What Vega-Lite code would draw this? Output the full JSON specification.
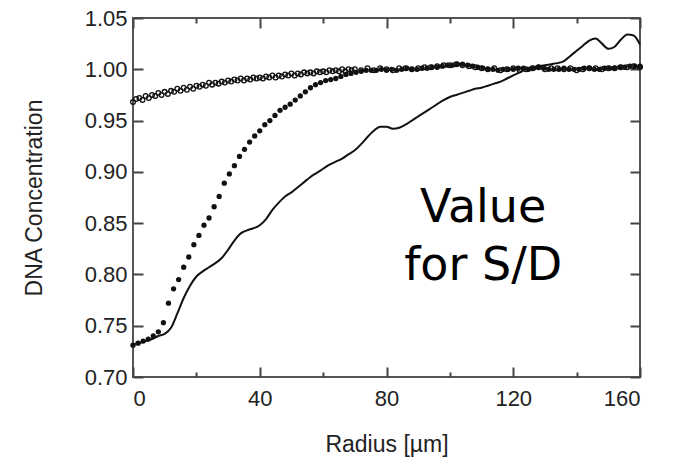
{
  "$schema": "https://vega.github.io/schema/vega-lite/v6.json",
  "autosize": {"type": "none"},
  "width": 507,
  "height": 359,
  "padding": {"left": 133, "top": 18, "right": 35, "bottom": 80},
  "config": {
    "view": {"stroke": "#555", "strokeWidth": 2},
    "font": "Liberation Sans",
    "axis": {
      "domain": false,
      "grid": false,
      "tickColor": "#444",
      "tickWidth": 2,
      "labelFont": "Liberation Sans",
      "labelFontSize": 22,
      "labelColor": "#222",
      "titleFont": "Liberation Sans",
      "titleFontWeight": "normal",
      "titleColor": "#222",
      "titleFontSize": 23
    }
  },
  "datasets": {
    "open": [
      {"r":0,"c":0.968},{"r":1,"c":0.971},{"r":2,"c":0.972},{"r":3,"c":0.970},{"r":4,"c":0.974},{"r":5,"c":0.972},{"r":6,"c":0.975},{"r":7,"c":0.974},{"r":8,"c":0.977},{"r":9,"c":0.975},
      {"r":10,"c":0.978},{"r":11,"c":0.976},{"r":12,"c":0.979},{"r":13,"c":0.978},{"r":14,"c":0.981},{"r":15,"c":0.979},{"r":16,"c":0.982},{"r":17,"c":0.980},{"r":18,"c":0.983},{"r":19,"c":0.981},
      {"r":20,"c":0.984},{"r":21,"c":0.983},{"r":22,"c":0.985},{"r":23,"c":0.984},{"r":24,"c":0.987},{"r":25,"c":0.985},{"r":26,"c":0.987},{"r":27,"c":0.986},{"r":28,"c":0.988},{"r":29,"c":0.987},
      {"r":30,"c":0.989},{"r":31,"c":0.988},{"r":32,"c":0.990},{"r":33,"c":0.989},{"r":34,"c":0.991},{"r":35,"c":0.989},{"r":36,"c":0.991},{"r":37,"c":0.990},{"r":38,"c":0.992},{"r":39,"c":0.991},
      {"r":40,"c":0.992},{"r":41,"c":0.991},{"r":42,"c":0.993},{"r":43,"c":0.992},{"r":44,"c":0.994},{"r":45,"c":0.992},{"r":46,"c":0.994},{"r":47,"c":0.993},{"r":48,"c":0.995},{"r":49,"c":0.994},
      {"r":50,"c":0.996},{"r":51,"c":0.994},{"r":52,"c":0.996},{"r":53,"c":0.995},{"r":54,"c":0.997},{"r":55,"c":0.996},{"r":56,"c":0.997},{"r":57,"c":0.996},{"r":58,"c":0.998},{"r":59,"c":0.997},
      {"r":60,"c":0.998},{"r":61,"c":0.997},{"r":62,"c":0.999},{"r":63,"c":0.998},{"r":64,"c":0.999},{"r":65,"c":0.998},{"r":66,"c":1.000},{"r":67,"c":0.998},{"r":68,"c":1.000},{"r":69,"c":0.999},
      {"r":70,"c":1.000},{"r":72,"c":0.999},{"r":74,"c":1.001},{"r":76,"c":0.999},{"r":78,"c":1.001},{"r":80,"c":1.000},{"r":82,"c":0.999},{"r":84,"c":1.001},{"r":86,"c":1.001},{"r":88,"c":1.000},
      {"r":90,"c":1.001},{"r":92,"c":1.002},{"r":94,"c":1.002},{"r":96,"c":1.003},{"r":98,"c":1.004},{"r":100,"c":1.004},{"r":102,"c":1.005},{"r":104,"c":1.004},{"r":106,"c":1.003},{"r":108,"c":1.002},
      {"r":110,"c":1.001},{"r":112,"c":1.000},{"r":114,"c":1.001},{"r":116,"c":0.999},{"r":118,"c":1.000},{"r":120,"c":1.001},{"r":122,"c":0.999},{"r":124,"c":1.000},{"r":126,"c":1.001},{"r":128,"c":1.002},
      {"r":130,"c":1.000},{"r":132,"c":1.001},{"r":134,"c":1.001},{"r":136,"c":1.000},{"r":138,"c":1.001},{"r":140,"c":0.999},{"r":142,"c":1.000},{"r":144,"c":1.001},{"r":146,"c":1.001},{"r":148,"c":1.000},
      {"r":150,"c":1.001},{"r":152,"c":1.001},{"r":154,"c":1.002},{"r":156,"c":1.002},{"r":158,"c":1.003},{"r":160,"c":1.002}
    ],
    "filled": [
      {"r":0,"c":0.731},{"r":1.6,"c":0.733},{"r":3.2,"c":0.735},{"r":4.8,"c":0.737},{"r":6.4,"c":0.740},{"r":8.0,"c":0.744},{"r":9.6,"c":0.753},{"r":11.2,"c":0.772},{"r":12.8,"c":0.786},{"r":14.4,"c":0.795},
      {"r":16.0,"c":0.807},{"r":17.6,"c":0.817},{"r":19.2,"c":0.829},{"r":20.8,"c":0.838},{"r":22.4,"c":0.848},{"r":24.0,"c":0.855},{"r":25.6,"c":0.866},{"r":27.2,"c":0.876},{"r":28.8,"c":0.889},{"r":30.4,"c":0.898},
      {"r":32.0,"c":0.906},{"r":33.6,"c":0.915},{"r":35.2,"c":0.922},{"r":36.8,"c":0.929},{"r":38.4,"c":0.935},{"r":40.0,"c":0.940},{"r":41.6,"c":0.946},{"r":43.2,"c":0.950},{"r":44.8,"c":0.955},{"r":46.4,"c":0.960},
      {"r":48.0,"c":0.963},{"r":49.6,"c":0.966},{"r":51.2,"c":0.970},{"r":52.8,"c":0.974},{"r":54.4,"c":0.978},{"r":56.0,"c":0.982},{"r":57.6,"c":0.985},{"r":59.2,"c":0.987},{"r":60.8,"c":0.989},{"r":62.4,"c":0.990},
      {"r":64.0,"c":0.991},{"r":65.6,"c":0.993},{"r":67.2,"c":0.995},{"r":68.8,"c":0.996},{"r":70.4,"c":0.997},{"r":72.0,"c":0.998},{"r":73.6,"c":0.999},{"r":75.2,"c":0.999},{"r":76.8,"c":0.999},{"r":78.4,"c":1.000},
      {"r":80.0,"c":0.999},{"r":81.6,"c":1.000},{"r":83.2,"c":0.999},{"r":84.8,"c":1.000},{"r":86.4,"c":1.001},{"r":88.0,"c":1.000},{"r":89.6,"c":1.000},{"r":91.2,"c":1.001},{"r":92.8,"c":1.001},{"r":94.4,"c":1.002},
      {"r":96.0,"c":1.002},{"r":97.6,"c":1.003},{"r":99.2,"c":1.004},{"r":100.8,"c":1.004},{"r":102.4,"c":1.005},{"r":104.0,"c":1.005},{"r":105.6,"c":1.004},{"r":107.2,"c":1.003},{"r":108.8,"c":1.002},{"r":110.4,"c":1.001},
      {"r":112.0,"c":1.000},{"r":113.6,"c":1.000},{"r":115.2,"c":0.999},{"r":116.8,"c":1.000},{"r":118.4,"c":1.000},{"r":120.0,"c":1.000},{"r":121.6,"c":1.001},{"r":123.2,"c":1.001},{"r":124.8,"c":1.000},{"r":126.4,"c":1.001},
      {"r":128.0,"c":1.002},{"r":129.6,"c":1.001},{"r":131.2,"c":1.000},{"r":132.8,"c":1.000},{"r":134.4,"c":1.000},{"r":136.0,"c":1.001},{"r":137.6,"c":1.000},{"r":139.2,"c":1.000},{"r":140.8,"c":1.000},{"r":142.4,"c":1.001},
      {"r":144.0,"c":1.001},{"r":145.6,"c":1.000},{"r":147.2,"c":1.000},{"r":148.8,"c":1.001},{"r":150.4,"c":1.001},{"r":152.0,"c":1.001},{"r":153.6,"c":1.002},{"r":155.2,"c":1.002},{"r":156.8,"c":1.003},{"r":158.4,"c":1.003},{"r":160.0,"c":1.003}
    ],
    "line": [
      {"r":0,"c":0.732},{"r":2,"c":0.733},{"r":4,"c":0.735},{"r":6,"c":0.737},{"r":8,"c":0.740},{"r":10,"c":0.742},{"r":12,"c":0.748},{"r":14,"c":0.762},{"r":16,"c":0.777},{"r":18,"c":0.789},
      {"r":20,"c":0.798},{"r":22,"c":0.803},{"r":24,"c":0.807},{"r":26,"c":0.811},{"r":28,"c":0.816},{"r":30,"c":0.824},{"r":32,"c":0.833},{"r":34,"c":0.840},{"r":36,"c":0.843},{"r":38,"c":0.845},
      {"r":40,"c":0.848},{"r":42,"c":0.854},{"r":44,"c":0.863},{"r":46,"c":0.870},{"r":48,"c":0.876},{"r":50,"c":0.880},{"r":52,"c":0.885},{"r":54,"c":0.890},{"r":56,"c":0.895},{"r":58,"c":0.899},
      {"r":60,"c":0.903},{"r":62,"c":0.907},{"r":64,"c":0.910},{"r":66,"c":0.913},{"r":68,"c":0.917},{"r":70,"c":0.921},{"r":72,"c":0.927},{"r":74,"c":0.934},{"r":76,"c":0.940},{"r":78,"c":0.944},
      {"r":80,"c":0.944},{"r":82,"c":0.942},{"r":84,"c":0.943},{"r":86,"c":0.946},{"r":88,"c":0.950},{"r":90,"c":0.954},{"r":92,"c":0.958},{"r":94,"c":0.962},{"r":96,"c":0.966},{"r":98,"c":0.970},
      {"r":100,"c":0.973},{"r":102,"c":0.975},{"r":104,"c":0.977},{"r":106,"c":0.979},{"r":108,"c":0.981},{"r":110,"c":0.982},{"r":112,"c":0.984},{"r":114,"c":0.986},{"r":116,"c":0.988},{"r":118,"c":0.991},
      {"r":120,"c":0.994},{"r":122,"c":0.997},{"r":124,"c":1.000},{"r":126,"c":1.002},{"r":128,"c":1.003},{"r":130,"c":1.004},{"r":132,"c":1.005},{"r":134,"c":1.006},{"r":136,"c":1.008},{"r":138,"c":1.013},
      {"r":140,"c":1.018},{"r":142,"c":1.023},{"r":144,"c":1.028},{"r":146,"c":1.030},{"r":148,"c":1.025},{"r":150,"c":1.020},{"r":152,"c":1.022},{"r":154,"c":1.029},{"r":156,"c":1.034},{"r":158,"c":1.033},{"r":160,"c":1.024}
    ]
  },
  "resolve": {"axis": {"x": "independent", "y": "independent"}},
  "layer": [
    {
      "data": {"name": "open"},
      "mark": {"type": "point", "filled": false, "color": "#111", "strokeWidth": 1.3, "size": 22, "opacity": 1},
      "encoding": {
        "x": {"field": "r", "type": "quantitative", "scale": {"domain": [0, 160], "nice": false, "zero": false},
              "axis": {"orient": "bottom", "values": [0, 40, 80, 120, 160], "tickSize": -10, "labelPadding": 21, "title": "Radius [µm]", "titlePadding": 24}},
        "y": {"field": "c", "type": "quantitative", "scale": {"domain": [0.70, 1.05], "nice": false, "zero": false},
              "axis": {"orient": "left", "values": [0.70, 0.75, 0.80, 0.85, 0.90, 0.95, 1.00, 1.05], "format": ".2f", "tickSize": -10, "labelPadding": 16, "title": "DNA Concentration", "titlePadding": 38}}
      }
    },
    {
      "data": {"name": "filled"},
      "mark": {"type": "circle", "color": "#111", "size": 28, "opacity": 1},
      "encoding": {
        "x": {"field": "r", "type": "quantitative",
              "axis": {"orient": "top", "values": [0, 40, 80, 120, 160], "tickSize": -10, "labels": false, "title": null}},
        "y": {"field": "c", "type": "quantitative",
              "axis": {"orient": "right", "values": [0.70, 0.75, 0.80, 0.85, 0.90, 0.95, 1.00, 1.05], "tickSize": -10, "labels": false, "title": null}}
      }
    },
    {
      "data": {"name": "line"},
      "mark": {"type": "line", "color": "#111", "strokeWidth": 2, "interpolate": "monotone"},
      "encoding": {
        "x": {"field": "r", "type": "quantitative",
              "axis": {"orient": "bottom", "values": [20, 60, 100, 140], "tickSize": -5, "labels": false, "title": null}},
        "y": {"field": "c", "type": "quantitative", "axis": null}
      }
    },
    {
      "data": {"values": [{}]},
      "mark": {"type": "text", "text": ["Value", "for S/D"], "font": "DejaVu Sans", "fontSize": 46, "lineHeight": 58, "align": "center", "baseline": "alphabetic", "color": "#000"},
      "encoding": {
        "x": {"datum": 110.5, "type": "quantitative",
              "axis": {"orient": "top", "values": [20, 60, 100, 140], "tickSize": -5, "labels": false, "title": null}},
        "y": {"datum": 0.851, "type": "quantitative", "axis": null}
      }
    }
  ]
}
